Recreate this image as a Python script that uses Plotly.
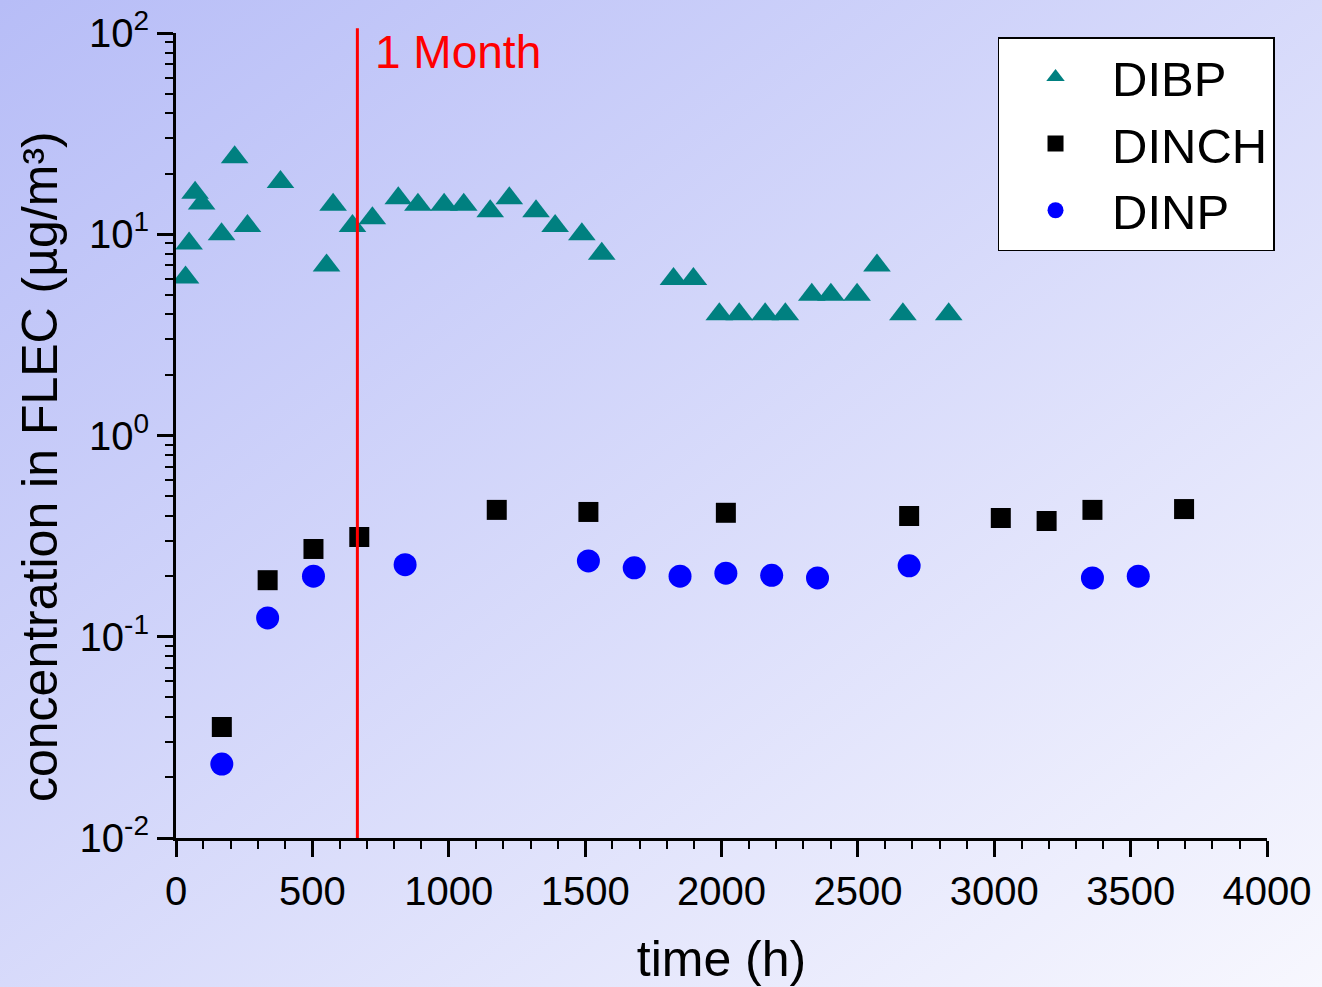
import base64
import plotly.graph_objects as go

# ---------------- data ----------------
dibp_t = [35, 48, 70, 94, 167, 215, 262, 383, 552, 576, 647, 720, 815, 887, 983, 1055,
          1152, 1222, 1320, 1390, 1488, 1561, 1824, 1897, 1992, 2065, 2160, 2234, 2331,
          2401, 2497, 2570, 2665, 2833]
dibp_c = [6.1, 9.0, 16.1, 14.2, 10.0, 24.1, 11.0, 18.2, 7.0, 14.0, 11.0, 12.0, 15.1, 14.0,
          14.0, 14.0, 13.0, 15.1, 13.0, 11.0, 10.0, 8.0, 6.0, 6.0, 4.0, 4.0, 4.0, 4.0, 5.0,
          5.0, 5.0, 7.0, 4.0, 4.0]

dinch_t = [168, 336, 504, 672, 1176, 1512, 2016, 2688, 3024, 3192, 3360, 3696]
dinch_c = [0.0356, 0.191, 0.273, 0.313, 0.427, 0.417, 0.413, 0.398, 0.389, 0.376, 0.427, 0.431]

dinp_t = [168, 336, 504, 840, 1512, 1680, 1848, 2016, 2184, 2352, 2688, 3360, 3528]
dinp_c = [0.0233, 0.124, 0.200, 0.228, 0.238, 0.220, 0.200, 0.207, 0.202, 0.196, 0.225,
          0.196, 0.200]

month_t = 665
month_label = "1 Month"
x_title = "time (h)"
y_title = "concentration in FLEC (µg/m³)"

y_tickvals = [0.01, 0.1, 1, 10, 100]
y_ticktext = ["10<sup>-2</sup>", "10<sup>-1</sup>", "10<sup>0</sup>", "10<sup>1</sup>", "10<sup>2</sup>"]
x_tickvals = [0, 500, 1000, 1500, 2000, 2500, 3000, 3500, 4000]

# ---------------- layout constants ----------------
W, H = 1322, 987
ML, MR, MT, MB = 176, 55, 33, 149
PW, PH = W - ML - MR, H - MT - MB
FONT = "Arial, Liberation Sans, sans-serif"

svg = (
    '<svg xmlns="http://www.w3.org/2000/svg" width="1322" height="987" preserveAspectRatio="none">'
    '<defs><linearGradient id="g" x1="0" y1="0" x2="1" y2="1">'
    '<stop offset="0" stop-color="rgb(183,189,247)"/>'
    '<stop offset="1" stop-color="rgb(247,247,254)"/>'
    '</linearGradient></defs>'
    '<rect x="0" y="0" width="1322" height="987" fill="url(#g)"/></svg>'
)
bg_src = "data:image/svg+xml;base64," + base64.b64encode(svg.encode()).decode()

fig = go.Figure()
fig.add_trace(go.Scatter(x=dibp_t, y=dibp_c, mode="markers", name="DIBP",
                         marker=dict(symbol="triangle-up", size=24, color="#008080",
                                     line=dict(width=0))))
fig.add_trace(go.Scatter(x=dinch_t, y=dinch_c, mode="markers", name="DINCH",
                         marker=dict(symbol="square", size=20, color="black",
                                     line=dict(width=0))))
fig.add_trace(go.Scatter(x=dinp_t, y=dinp_c, mode="markers", name="DINP",
                         marker=dict(symbol="circle", size=23, color="#0000FF",
                                     line=dict(width=0))))

fig.add_shape(type="line", xref="x", yref="y domain", x0=month_t, x1=month_t,
              y0=0, y1=1.006, line=dict(color="#FF0000", width=3), layer="above")
fig.add_annotation(x=month_t, xref="x", y=0.976, yref="paper", text=month_label,
                   showarrow=False, xanchor="left", yanchor="middle", xshift=16,
                   font=dict(family=FONT, size=46, color="#FF0000"))
fig.add_annotation(x=-(ML - 40) / PW, xref="paper", y=(838 - 467) / 805, yref="paper",
                   text=y_title, textangle=-90, showarrow=False,
                   xanchor="center", yanchor="middle",
                   font=dict(family=FONT, size=50, color="black"))

minor_y = [k * 10.0 ** p for p in range(-2, 2) for k in range(2, 10)]

fig.update_layout(
    width=W, height=H,
    margin=dict(l=ML, r=MR, t=MT, b=MB, autoexpand=False),
    paper_bgcolor="rgba(0,0,0,0)",
    plot_bgcolor="rgba(0,0,0,0)",
    font=dict(family=FONT, size=40, color="black"),
    showlegend=True,
    legend=dict(x=0.753, y=0.995, xanchor="left", yanchor="top",
                bgcolor="white", bordercolor="black", borderwidth=1.5,
                font=dict(family=FONT, size=49, color="black"),
                itemsizing="trace", itemwidth=103, tracegroupgap=0),
    images=[dict(source=bg_src, xref="paper", yref="paper",
                 x=-ML / PW, y=1 + MT / PH, sizex=W / PW, sizey=H / PH,
                 xanchor="left", yanchor="top", sizing="stretch", layer="below")],
    xaxis=dict(range=[0, 4000], tickvals=x_tickvals, showgrid=False, zeroline=False,
               automargin=False,
               showline=True, linecolor="black", linewidth=3,
               ticks="outside", ticklen=16, tickwidth=3, tickcolor="black",
               tickfont=dict(size=40),
               minor=dict(dtick=100, tick0=0, ticks="outside", ticklen=8, tickwidth=2,
                          tickcolor="black", showgrid=False),
               title=dict(text=x_title, font=dict(size=50), standoff=32)),
    yaxis=dict(type="log", range=[-2, 2], tickvals=y_tickvals, ticktext=y_ticktext,
               showgrid=False, zeroline=False, automargin=False,
               showline=True, linecolor="black", linewidth=3,
               ticks="outside", ticklen=16, tickwidth=3, tickcolor="black",
               tickfont=dict(size=40),
               minor=dict(tickvals=minor_y, ticks="outside", ticklen=8, tickwidth=2,
                          tickcolor="black", showgrid=False)),
)

fig.write_html("out.html")
